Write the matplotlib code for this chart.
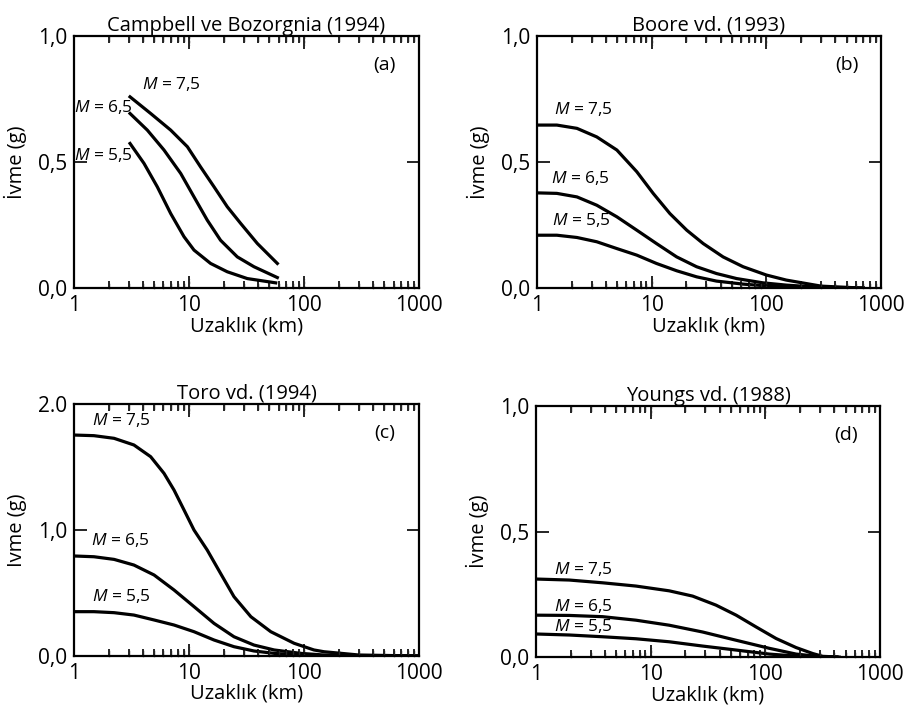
import numpy as np
import matplotlib
matplotlib.use("Agg")
import matplotlib.pyplot as plt
import matplotlib.transforms as mtransforms
from matplotlib.ticker import FixedLocator, NullFormatter

plt.rcParams['font.family'] = ['Open Sans', 'DejaVu Sans']
plt.rcParams['mathtext.fontset'] = 'custom'
plt.rcParams['mathtext.it'] = 'Open Sans:italic'
plt.rcParams['mathtext.rm'] = 'Open Sans'
plt.rcParams['xtick.direction'] = 'in'
plt.rcParams['ytick.direction'] = 'in'
plt.rcParams['xtick.top'] = True
plt.rcParams['ytick.right'] = True
plt.rcParams['xtick.major.size'] = 9
plt.rcParams['xtick.minor.size'] = 5
plt.rcParams['xtick.major.width'] = 1.2
plt.rcParams['xtick.minor.width'] = 1.2
plt.rcParams['ytick.major.size'] = 9
plt.rcParams['ytick.major.width'] = 1.2

# (a) Campbell ve Bozorgnia (1994)
a_x75 = [3.07, 4.64, 6.93, 9.68, 12.6, 16.5, 21.5, 28.1, 39.3, 58.6]
a_y75 = [0.759, 0.693, 0.627, 0.561, 0.481, 0.402, 0.323, 0.257, 0.177, 0.098]
a_x65 = [3.07, 4.34, 6.06, 8.47, 11.05, 14.4, 18.8, 26.3, 36.7, 58.6]
a_y65 = [0.693, 0.627, 0.548, 0.455, 0.362, 0.270, 0.190, 0.124, 0.085, 0.042]
a_x55 = [3.07, 4.06, 5.3, 6.93, 9.05, 11.05, 15.4, 21.5, 32.1, 56.7]
a_y55 = [0.574, 0.495, 0.402, 0.296, 0.204, 0.151, 0.098, 0.065, 0.038, 0.021]

# (b) Boore vd. (1993)
b_x75 = [1.0, 1.49, 2.23, 3.32, 4.97, 7.41, 10.3, 14.4, 20.2, 28.1, 41.9, 62.6, 100, 149, 300, 700]
b_y75 = [0.647, 0.647, 0.634, 0.600, 0.548, 0.462, 0.376, 0.296, 0.230, 0.177, 0.124, 0.085, 0.052, 0.032, 0.008, 0.0]
b_x65 = [1.0, 1.49, 2.23, 3.32, 4.97, 7.41, 11.0, 16.5, 24.6, 36.7, 55, 93.5, 149, 300, 700]
b_y65 = [0.378, 0.376, 0.362, 0.329, 0.283, 0.230, 0.177, 0.124, 0.085, 0.058, 0.038, 0.021, 0.012, 0.003, 0.0]
b_x55 = [1.0, 1.49, 2.23, 3.32, 4.97, 7.41, 11.0, 16.5, 24.6, 36.7, 62.6, 107, 149, 300, 700]
b_y55 = [0.210, 0.210, 0.201, 0.184, 0.157, 0.131, 0.098, 0.069, 0.045, 0.028, 0.016, 0.008, 0.004, 0.001, 0.0]

# (c) Toro vd. (1994)
c_x75 = [1.0, 1.49, 2.23, 3.32, 4.64, 6.06, 7.41, 9.05, 11.05, 14.4, 18.8, 24.6, 34.5, 51.4, 82, 122, 149, 300, 1000]
c_y75 = [1.754, 1.749, 1.728, 1.675, 1.582, 1.450, 1.317, 1.159, 1.0, 0.841, 0.656, 0.471, 0.312, 0.193, 0.101, 0.048, 0.034, 0.008, 0.0]
c_x65 = [1.0, 1.49, 2.23, 3.32, 4.97, 7.41, 11.05, 16.5, 24.6, 36.7, 55, 93.5, 149, 300, 1000]
c_y65 = [0.794, 0.788, 0.767, 0.722, 0.643, 0.524, 0.392, 0.259, 0.153, 0.087, 0.048, 0.021, 0.008, 0.002, 0.0]
c_x55 = [1.0, 1.49, 2.23, 3.32, 4.97, 7.41, 11.05, 16.5, 24.6, 36.7, 55, 93.5, 149, 300, 1000]
c_y55 = [0.352, 0.352, 0.344, 0.325, 0.286, 0.246, 0.193, 0.127, 0.074, 0.040, 0.021, 0.005, 0.001, 0.0, 0.0]

# (d) Youngs vd. (1988)
d_x75 = [1.0, 1.95, 3.81, 7.44, 14.5, 23.2, 37.1, 55.6, 83.0, 124, 185, 259, 316, 440]
d_y75 = [0.311, 0.307, 0.296, 0.283, 0.264, 0.243, 0.207, 0.167, 0.120, 0.074, 0.038, 0.014, 0.003, 0.0]
d_x65 = [1.0, 1.95, 3.81, 7.44, 14.5, 28.3, 55.6, 108, 185, 297, 420]
d_y65 = [0.167, 0.166, 0.161, 0.147, 0.127, 0.100, 0.067, 0.035, 0.012, 0.002, 0.0]
d_x55 = [1.0, 1.95, 3.81, 7.44, 14.5, 28.3, 55.6, 108, 211, 420]
d_y55 = [0.092, 0.088, 0.081, 0.073, 0.061, 0.044, 0.028, 0.012, 0.002, 0.0]

labels = ["$M$ = 7,5", "$M$ = 6,5", "$M$ = 5,5"]

fig = plt.figure(figsize=(9.08, 7.15), dpi=100)

major_x = [1, 10, 100, 1000]
minor_x = [m * 10 ** e for e in range(3) for m in range(2, 10)]

def setup(ax, title, tag, ymax, yticks, ylabels, ylabel):
    ax.set_xscale('log')
    ax.set_xlim(1, 1000)
    ax.set_ylim(0, ymax)
    ax.xaxis.set_major_locator(FixedLocator(major_x))
    ax.set_xticklabels(['1', '10', '100', '1000'])
    ax.xaxis.set_minor_locator(FixedLocator(minor_x))
    ax.xaxis.set_minor_formatter(NullFormatter())
    ax.set_yticks(yticks)
    ax.set_yticklabels(ylabels)
    ax.tick_params(axis='both', which='major', labelsize=15, pad=5)
    # inward tick marks on top and bottom edges, drawn as short lines
    trans = mtransforms.blended_transform_factory(ax.transData, ax.transAxes)
    for t in major_x[1:-1]:
        for y0, y1 in [(0, 0.036), (1, 1 - 0.036)]:
            ax.plot([t, t], [y0, y1], transform=trans, color='0.15',
                    lw=1.0, ls=(0, (2, 1)), clip_on=False)
    for t in minor_x:
        for y0, y1 in [(0, 0.018), (1, 1 - 0.018)]:
            ax.plot([t, t], [y0, y1], transform=trans, color='0.15',
                    lw=1.0, clip_on=False)
    for s in ax.spines.values():
        s.set_linewidth(1.6)
    ax.set_title(title, fontsize=14.5, pad=4)
    ax.set_xlabel("Uzaklık (km)", fontsize=14.5, labelpad=0)
    ax.set_ylabel(ylabel, fontsize=14.5, labelpad=8)
    ax.text(0.9, 0.885, tag, transform=ax.transAxes, fontsize=14,
            ha='center', va='center')

lw = 2.3
fs = 12.5

ax = fig.add_axes([0.0815, 0.597, 0.380, 0.3525])
ax.plot(a_x75, a_y75, color='k', lw=lw)
ax.plot(a_x65, a_y65, color='k', lw=lw)
ax.plot(a_x55, a_y55, color='k', lw=lw)
setup(ax, "Campbell ve Bozorgnia (1994)", "(a)", 1.0, [0, 0.5, 1.0],
      ["0,0", "0,5", "1,0"], "İvme (g)")
ax.text(3.9, 0.81, labels[0], fontsize=fs, va='center')
ax.text(1.0, 0.72, labels[1], fontsize=fs, va='center')
ax.text(1.0, 0.53, labels[2], fontsize=fs, va='center')

ax = fig.add_axes([0.5914, 0.597, 0.379, 0.3525])
ax.plot(b_x75, b_y75, color='k', lw=lw)
ax.plot(b_x65, b_y65, color='k', lw=lw)
ax.plot(b_x55, b_y55, color='k', lw=lw)
setup(ax, "Boore vd. (1993)", "(b)", 1.0, [0, 0.5, 1.0],
      ["0,0", "0,5", "1,0"], "İvme (g)")
ax.text(1.42, 0.71, labels[0], fontsize=fs, va='center')
ax.text(1.33, 0.437, labels[1], fontsize=fs, va='center')
ax.text(1.36, 0.27, labels[2], fontsize=fs, va='center')

ax = fig.add_axes([0.0815, 0.0825, 0.380, 0.3524])
ax.plot(c_x75, c_y75, color='k', lw=lw)
ax.plot(c_x65, c_y65, color='k', lw=lw)
ax.plot(c_x55, c_y55, color='k', lw=lw)
setup(ax, "Toro vd. (1994)", "(c)", 2.0, [0, 1.0, 2.0],
      ["0,0", "1,0", "2.0"], "Ivme (g)")
ax.text(1.42, 1.875, labels[0], fontsize=fs, va='center')
ax.text(1.4, 0.92, labels[1], fontsize=fs, va='center')
ax.text(1.42, 0.477, labels[2], fontsize=fs, va='center')

ax = fig.add_axes([0.5903, 0.081, 0.379, 0.351])
ax.plot(d_x75, d_y75, color='k', lw=lw)
ax.plot(d_x65, d_y65, color='k', lw=lw)
ax.plot(d_x55, d_y55, color='k', lw=lw)
setup(ax, "Youngs vd. (1988)", "(d)", 1.0, [0, 0.5, 1.0],
      ["0,0", "0,5", "1,0"], "İvme (g)")
ax.text(1.44, 0.35, labels[0], fontsize=fs, va='center')
ax.text(1.44, 0.205, labels[1], fontsize=fs, va='center')
ax.text(1.44, 0.125, labels[2], fontsize=fs, va='center')

fig.savefig("out.png", dpi=100)
